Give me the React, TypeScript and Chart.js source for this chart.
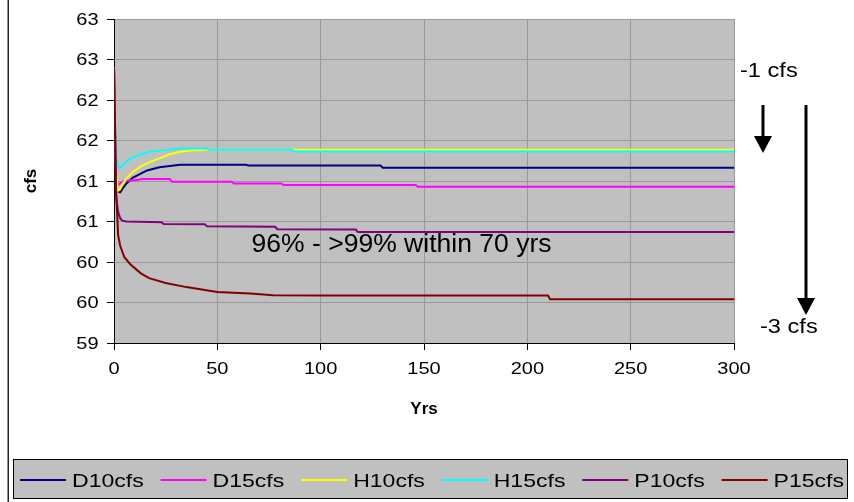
import { useEffect, useRef } from "react";
import { Chart, registerables } from "chart.js";
import type { Plugin } from "chart.js";

Chart.register(...registerables);

const FONT = "'Liberation Sans', Arial, Helvetica, sans-serif";

// Series names and colours
const seriesLabels = ["D10cfs", "D15cfs", "H10cfs", "H15cfs", "P10cfs", "P15cfs"];
const seriesColors = ["#000080", "#FF00FF", "#FFFF00", "#00FFFF", "#800080", "#800000"];

// Flow (cfs) by year for each scenario
const d10Years = [0, 1, 2, 3, 4, 6, 9, 12, 16, 22, 32, 64, 65, 129, 130, 300];
const d10Flow = [62.4, 61.0, 60.87, 60.86, 60.9, 60.97, 61.04, 61.08, 61.13, 61.17, 61.2, 61.2, 61.19, 61.19, 61.165, 61.165];

const d15Years = [0, 1, 2, 3, 5, 10, 14, 27, 28, 57, 58, 81, 82, 146, 147, 300];
const d15Flow = [62.4, 61.02, 60.95, 60.97, 61.0, 61.01, 61.025, 61.025, 60.99, 60.99, 60.97, 60.97, 60.95, 60.95, 60.93, 60.93];

const h10Years = [0, 1, 2, 3, 4, 6, 9, 13, 17, 22, 27, 32, 38, 45, 300];
const h10Flow = [62.4, 61.1, 60.88, 60.9, 60.96, 61.03, 61.11, 61.18, 61.23, 61.28, 61.33, 61.36, 61.38, 61.385, 61.385];

const h15Years = [0, 1, 2, 3, 4, 6, 9, 13, 17, 22, 27, 32, 45, 46, 86, 87, 300];
const h15Flow = [62.4, 61.3, 61.18, 61.16, 61.19, 61.24, 61.29, 61.33, 61.36, 61.375, 61.39, 61.4, 61.4, 61.385, 61.385, 61.365, 61.365];

const p10Years = [0, 1, 2, 3, 4, 6, 23, 24, 44, 45, 78, 79, 117, 118, 300];
const p10Flow = [62.4, 60.8, 60.62, 60.54, 60.51, 60.5, 60.49, 60.47, 60.465, 60.44, 60.435, 60.405, 60.4, 60.37, 60.37];

const p15Years = [0, 1, 2, 3, 4, 5, 8, 13, 17, 25, 35, 50, 66, 77, 100, 210, 211, 300];
const p15Flow = [62.4, 60.9, 60.33, 60.2, 60.13, 60.06, 59.97, 59.86, 59.8, 59.74, 59.69, 59.63, 59.61, 59.59, 59.585, 59.585, 59.54, 59.54];

const seriesYears = [d10Years, d15Years, h10Years, h15Years, p10Years, p15Years];
const seriesFlow = [d10Flow, d15Flow, h10Flow, h15Flow, p10Flow, p15Flow];

// Axis ranges
const yearMin = 0;
const yearMax = 300;
const yearStep = 50;
const flowMin = 59;
const flowMax = 63;
const flowStep = 0.5;

const noteTop = "-1 cfs";
const noteBottom = "-3 cfs";
const noteMiddle = "96% - >99% within 70 yrs";

// text drawn with a horizontal stretch, the way the workbook renders its fonts
function wideText(
  ctx: CanvasRenderingContext2D,
  text: string,
  x: number,
  y: number,
  font: string,
  align: CanvasTextAlign,
  sx: number
) {
  ctx.save();
  ctx.font = font;
  ctx.textAlign = align;
  ctx.textBaseline = "alphabetic";
  ctx.translate(x, y);
  ctx.scale(sx, 1);
  ctx.fillText(text, 0, 0);
  ctx.restore();
}

function drawArrow(ctx: CanvasRenderingContext2D, x: number, y0: number, y1: number) {
  const headH = 17;
  const headW = 9;
  ctx.beginPath();
  ctx.moveTo(x, y0);
  ctx.lineTo(x, y1 - headH + 1);
  ctx.stroke();
  ctx.beginPath();
  ctx.moveTo(x - headW, y1 - headH);
  ctx.lineTo(x + headW, y1 - headH);
  ctx.lineTo(x, y1);
  ctx.closePath();
  ctx.fill();
}

const AXIS_FONT = `16px ${FONT}`;
const AXIS_SX = 1.25;

const decor: Plugin<"line"> = {
  id: "decor",
  beforeDraw(chart) {
    const { ctx, chartArea: a, width, height } = chart;
    ctx.save();
    ctx.fillStyle = "#ffffff";
    ctx.fillRect(0, 0, width, height);
    ctx.fillStyle = "#c0c0c0";
    ctx.fillRect(a.left, a.top, a.right - a.left, a.bottom - a.top);
    // outer frame edge
    ctx.strokeStyle = "#222222";
    ctx.lineWidth = 1.5;
    ctx.beginPath();
    ctx.moveTo(8.25, 0);
    ctx.lineTo(8.25, height);
    ctx.stroke();
    ctx.restore();
  },
  afterDraw(chart) {
    const { ctx, chartArea: a } = chart;
    ctx.save();
    ctx.fillStyle = "#000";
    ctx.strokeStyle = "#000";

    // tick labels from the scales
    const xs = chart.scales.x;
    xs.ticks.forEach((t) => {
      wideText(ctx, String(t.label), xs.getPixelForValue(t.value), a.bottom + 30.5, AXIS_FONT, "center", AXIS_SX);
    });
    const ys = chart.scales.y;
    ys.ticks.forEach((t) => {
      wideText(ctx, String(t.label), a.left - 15.5, ys.getPixelForValue(t.value) + 5.8, AXIS_FONT, "right", AXIS_SX);
    });

    // annotations
    wideText(ctx, noteTop, a.right + 6, 77.3, `20px ${FONT}`, "left", 1.18);
    wideText(ctx, noteBottom, a.right + 26, 333.3, `20px ${FONT}`, "left", 1.18);
    wideText(ctx, noteMiddle, 401.5, 252.3, `26px ${FONT}`, "center", 1.02);

    ctx.lineWidth = 3;
    drawArrow(ctx, a.right + 29, 105, 153);
    drawArrow(ctx, a.right + 72, 105, 315);

    // legend
    const boxL = 13;
    const boxR = 848;
    const boxT = 459;
    const boxB = 499;
    ctx.fillStyle = "#c0c0c0";
    ctx.fillRect(boxL, boxT, boxR - boxL, boxB - boxT);
    ctx.lineWidth = 1;
    ctx.strokeStyle = "#000";
    ctx.strokeRect(boxL + 0.5, boxT + 0.5, boxR - boxL - 1, boxB - boxT - 1);

    const legendFont = `18px ${FONT}`;
    const legendSx = 1.28;
    ctx.font = legendFont;
    const sample = 46;
    const gap = 6;
    const datasets = chart.data.datasets;
    const widths = datasets.map((d) => sample + gap + ctx.measureText(String(d.label)).width * legendSx);
    const total = widths.reduce((s, w) => s + w, 0);
    const startX = 20;
    const endX = 844;
    const spacing = (endX - startX - total) / (datasets.length - 1);
    let x = startX;
    const cy = 480;
    datasets.forEach((d, i) => {
      ctx.strokeStyle = String(d.borderColor);
      ctx.lineWidth = 2;
      ctx.beginPath();
      ctx.moveTo(x, cy);
      ctx.lineTo(x + sample, cy);
      ctx.stroke();
      ctx.fillStyle = "#000";
      wideText(ctx, String(d.label), x + sample + gap, cy + 6.5, legendFont, "left", legendSx);
      x += widths[i] + spacing;
    });

    ctx.restore();
  },
};

export default function App() {
  const canvasRef = useRef<HTMLCanvasElement>(null);

  useEffect(() => {
    const canvas = canvasRef.current;
    if (!canvas) return;

    const datasets = seriesLabels.map((label, i) => ({
      label,
      data: seriesYears[i].map((yr, k) => ({ x: yr, y: seriesFlow[i][k] })),
      borderColor: seriesColors[i],
      backgroundColor: seriesColors[i],
      borderWidth: 2,
      pointRadius: 0,
      tension: 0,
      fill: false,
      order: seriesLabels.length - i,
    }));

    const titleFont = { family: FONT, size: 17, weight: "bold" as const };
    const hidden = "rgba(0,0,0,0)";

    const chart = new Chart(canvas, {
      type: "line",
      data: { datasets },
      plugins: [decor],
      options: {
        responsive: false,
        animation: false,
        layout: { padding: { left: 0, right: 120, top: 19, bottom: 0 } },
        plugins: {
          legend: { display: false },
          tooltip: { enabled: false },
        },
        scales: {
          x: {
            type: "linear",
            min: yearMin,
            max: yearMax,
            ticks: { stepSize: yearStep, color: hidden, font: { family: FONT, size: 16 }, padding: 9 },
            grid: { color: "#999999", tickColor: "#000", tickLength: 7, lineWidth: 1 },
            border: { color: "#000", width: 1 },
            title: {
              display: true,
              text: "Yrs",
              color: "#000",
              font: titleFont,
              padding: { top: 0, bottom: 82 },
            },
            afterFit(scale) {
              scale.height = 159;
            },
          },
          y: {
            type: "linear",
            min: flowMin,
            max: flowMax,
            ticks: {
              stepSize: flowStep,
              color: hidden,
              font: { family: FONT, size: 16 },
              padding: 9,
              callback: (v) => String(Math.round(Number(v))),
            },
            grid: { color: "#999999", tickColor: "#000", tickLength: 7, lineWidth: 1 },
            border: { color: "#000", width: 1 },
            title: {
              display: true,
              text: "cfs",
              color: "#000",
              font: titleFont,
              padding: { top: 21, bottom: 0 },
            },
            afterFit(scale) {
              scale.width = 114;
            },
          },
        },
      },
    });

    return () => chart.destroy();
  }, []);

  return (
    <div style={{ position: "fixed", left: 0, top: 0, width: 854, height: 502, background: "#fff" }}>
      <canvas ref={canvasRef} width={854} height={502} style={{ display: "block", width: 854, height: 502 }} />
    </div>
  );
}
